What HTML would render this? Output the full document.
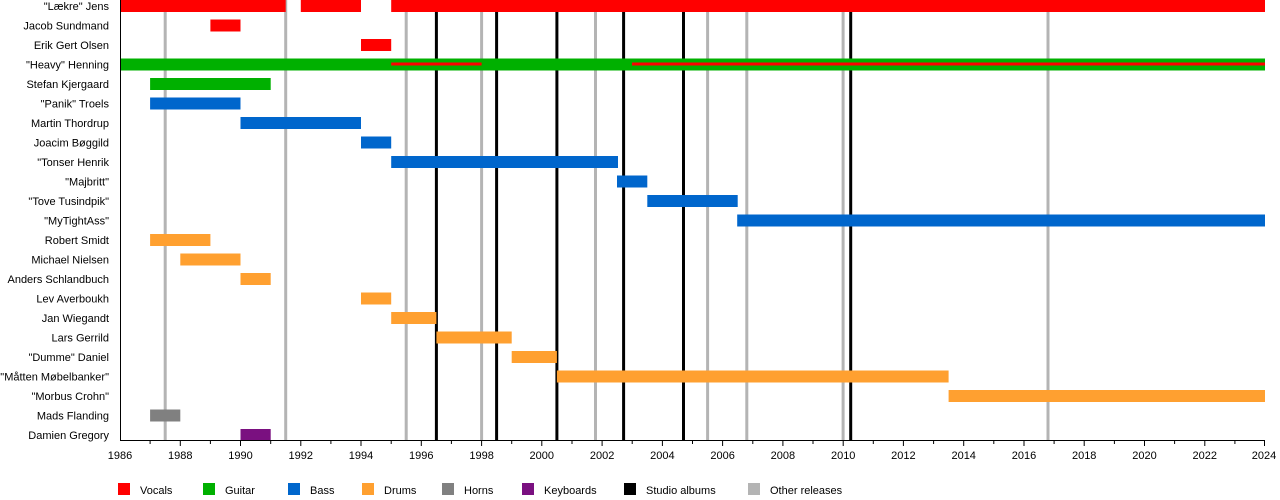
<!DOCTYPE html>
<html><head><meta charset="utf-8"><style>body{margin:0;background:#fff}svg{display:block}text{font-family:"Liberation Sans",sans-serif;font-size:11px;fill:#000}</style></head><body>
<svg width="1280" height="500" xmlns="http://www.w3.org/2000/svg">
<g stroke-width="3">
<g stroke="#b4b4b4">
<line x1="165.2" y1="0" x2="165.2" y2="440"/><line x1="285.7" y1="0" x2="285.7" y2="440"/><line x1="406.2" y1="0" x2="406.2" y2="440"/><line x1="481.6" y1="0" x2="481.6" y2="440"/><line x1="595.5" y1="0" x2="595.5" y2="440"/><line x1="707.6" y1="0" x2="707.6" y2="440"/><line x1="746.8" y1="0" x2="746.8" y2="440"/><line x1="843.1" y1="0" x2="843.1" y2="440"/><line x1="1048" y1="0" x2="1048" y2="440"/>
</g>
<g stroke="#000">
<line x1="436.4" y1="0" x2="436.4" y2="440"/><line x1="496.6" y1="0" x2="496.6" y2="440"/><line x1="556.9" y1="0" x2="556.9" y2="440"/><line x1="623.6" y1="0" x2="623.6" y2="440"/><line x1="683.5" y1="0" x2="683.5" y2="440"/><line x1="850.7" y1="0" x2="850.7" y2="440"/>
</g></g>
<g fill="#ff0000">
<rect x="120" y="0" width="165.7" height="12"/><rect x="300.8" y="0" width="60.2" height="12"/><rect x="391.2" y="0" width="873.8" height="12"/>
<rect x="210.4" y="19.5" width="30.1" height="12"/>
<rect x="361" y="39" width="30.2" height="12"/>
</g>
<g fill="#00b000">
<rect x="120" y="58.5" width="1145" height="12"/>
<rect x="150.1" y="78" width="120.6" height="12"/>
</g>
<g fill="#ff0000"><rect x="391.2" y="62.5" width="90.4" height="3"/><rect x="632" y="62.5" width="633" height="3"/></g>
<g fill="#0066cc">
<rect x="150.1" y="97.5" width="90.4" height="12"/>
<rect x="240.5" y="117" width="120.5" height="12"/>
<rect x="361" y="136.5" width="30.2" height="12"/>
<rect x="391.2" y="156" width="226.8" height="12"/>
<rect x="617" y="175.5" width="30.3" height="12"/>
<rect x="647.3" y="195" width="90.4" height="12"/>
<rect x="737.2" y="214.5" width="527.8" height="12"/>
</g>
<g fill="#ffa030">
<rect x="150.1" y="234" width="60.3" height="12"/>
<rect x="180.3" y="253.5" width="60.2" height="12"/>
<rect x="240.5" y="273" width="30.2" height="12"/>
<rect x="361" y="292.5" width="30.2" height="12"/>
<rect x="391.2" y="312" width="45.2" height="12"/>
<rect x="436.4" y="331.5" width="75.3" height="12"/>
<rect x="511.7" y="351" width="45.2" height="12"/>
<rect x="556.9" y="370.5" width="391.7" height="12"/>
<rect x="948.6" y="390" width="316.4" height="12"/>
</g>
<rect x="150.1" y="409.5" width="30.2" height="12" fill="#808080"/>
<rect x="240.5" y="429" width="30.2" height="11" fill="#7a1080"/>
<line x1="120.5" y1="0" x2="120.5" y2="441" stroke="#000"/>
<line x1="120" y1="440.5" x2="1265" y2="440.5" stroke="#000"/>
<g stroke="#000">
<line x1="150.1" y1="440" x2="150.1" y2="444"/><line x1="180.3" y1="440" x2="180.3" y2="446"/><line x1="210.4" y1="440" x2="210.4" y2="444"/><line x1="240.5" y1="440" x2="240.5" y2="446"/><line x1="270.7" y1="440" x2="270.7" y2="444"/><line x1="300.8" y1="440" x2="300.8" y2="446"/><line x1="330.9" y1="440" x2="330.9" y2="444"/><line x1="361" y1="440" x2="361" y2="446"/><line x1="391.2" y1="440" x2="391.2" y2="444"/><line x1="421.3" y1="440" x2="421.3" y2="446"/><line x1="451.4" y1="440" x2="451.4" y2="444"/><line x1="481.6" y1="440" x2="481.6" y2="446"/><line x1="511.7" y1="440" x2="511.7" y2="444"/><line x1="541.8" y1="440" x2="541.8" y2="446"/><line x1="572" y1="440" x2="572" y2="444"/><line x1="602.1" y1="440" x2="602.1" y2="446"/><line x1="632.2" y1="440" x2="632.2" y2="444"/><line x1="662.4" y1="440" x2="662.4" y2="446"/><line x1="692.5" y1="440" x2="692.5" y2="444"/><line x1="722.6" y1="440" x2="722.6" y2="446"/><line x1="752.8" y1="440" x2="752.8" y2="444"/><line x1="782.9" y1="440" x2="782.9" y2="446"/><line x1="813" y1="440" x2="813" y2="444"/><line x1="843.2" y1="440" x2="843.2" y2="446"/><line x1="873.3" y1="440" x2="873.3" y2="444"/><line x1="903.4" y1="440" x2="903.4" y2="446"/><line x1="933.6" y1="440" x2="933.6" y2="444"/><line x1="963.7" y1="440" x2="963.7" y2="446"/><line x1="993.8" y1="440" x2="993.8" y2="444"/><line x1="1024" y1="440" x2="1024" y2="446"/><line x1="1054.1" y1="440" x2="1054.1" y2="444"/><line x1="1084.2" y1="440" x2="1084.2" y2="446"/><line x1="1114.4" y1="440" x2="1114.4" y2="444"/><line x1="1144.5" y1="440" x2="1144.5" y2="446"/><line x1="1174.6" y1="440" x2="1174.6" y2="444"/><line x1="1204.8" y1="440" x2="1204.8" y2="446"/><line x1="1234.9" y1="440" x2="1234.9" y2="444"/><line x1="1264.5" y1="440" x2="1264.5" y2="446"/>
</g>
<g text-anchor="middle">
<text x="120" y="459">1986</text><text x="180.3" y="459">1988</text><text x="240.5" y="459">1990</text><text x="300.8" y="459">1992</text><text x="361" y="459">1994</text><text x="421.3" y="459">1996</text><text x="481.6" y="459">1998</text><text x="541.8" y="459">2000</text><text x="602.1" y="459">2002</text><text x="662.4" y="459">2004</text><text x="722.6" y="459">2006</text><text x="782.9" y="459">2008</text><text x="843.2" y="459">2010</text><text x="903.4" y="459">2012</text><text x="963.7" y="459">2014</text><text x="1024" y="459">2016</text><text x="1084.2" y="459">2018</text><text x="1144.5" y="459">2020</text><text x="1204.8" y="459">2022</text><text x="1264" y="459">2024</text>
</g>
<g text-anchor="end">
<text x="109" y="10">"Lækre" Jens</text>
<text x="109" y="29.5">Jacob Sundmand</text>
<text x="109" y="49">Erik Gert Olsen</text>
<text x="109" y="68.5">"Heavy" Henning</text>
<text x="109" y="88">Stefan Kjergaard</text>
<text x="109" y="107.5">"Panik" Troels</text>
<text x="109" y="127">Martin Thordrup</text>
<text x="109" y="146.5">Joacim Bøggild</text>
<text x="109" y="166">"Tonser Henrik</text>
<text x="109" y="185.5">"Majbritt"</text>
<text x="109" y="205">"Tove Tusindpik"</text>
<text x="109" y="224.5">"MyTightAss"</text>
<text x="109" y="244">Robert Smidt</text>
<text x="109" y="263.5">Michael Nielsen</text>
<text x="109" y="283">Anders Schlandbuch</text>
<text x="109" y="302.5">Lev Averboukh</text>
<text x="109" y="322">Jan Wiegandt</text>
<text x="109" y="341.5">Lars Gerrild</text>
<text x="109" y="361">"Dumme" Daniel</text>
<text x="109" y="380.5">"Måtten Møbelbanker"</text>
<text x="109" y="400">"Morbus Crohn"</text>
<text x="109" y="419.5">Mads Flanding</text>
<text x="109" y="439">Damien Gregory</text>
</g>
<rect x="118" y="483" width="12" height="12" fill="#ff0000"/><text x="140" y="494">Vocals</text>
<rect x="203" y="483" width="12" height="12" fill="#00b000"/><text x="225" y="494">Guitar</text>
<rect x="288" y="483" width="12" height="12" fill="#0066cc"/><text x="310" y="494">Bass</text>
<rect x="362" y="483" width="12" height="12" fill="#ffa030"/><text x="384" y="494">Drums</text>
<rect x="442" y="483" width="12" height="12" fill="#808080"/><text x="464" y="494">Horns</text>
<rect x="522" y="483" width="12" height="12" fill="#7a1080"/><text x="544" y="494">Keyboards</text>
<rect x="624" y="483" width="12" height="12" fill="#000"/><text x="646" y="494">Studio albums</text>
<rect x="748" y="483" width="12" height="12" fill="#b4b4b4"/><text x="770" y="494">Other releases</text>
</svg>
</body></html>
